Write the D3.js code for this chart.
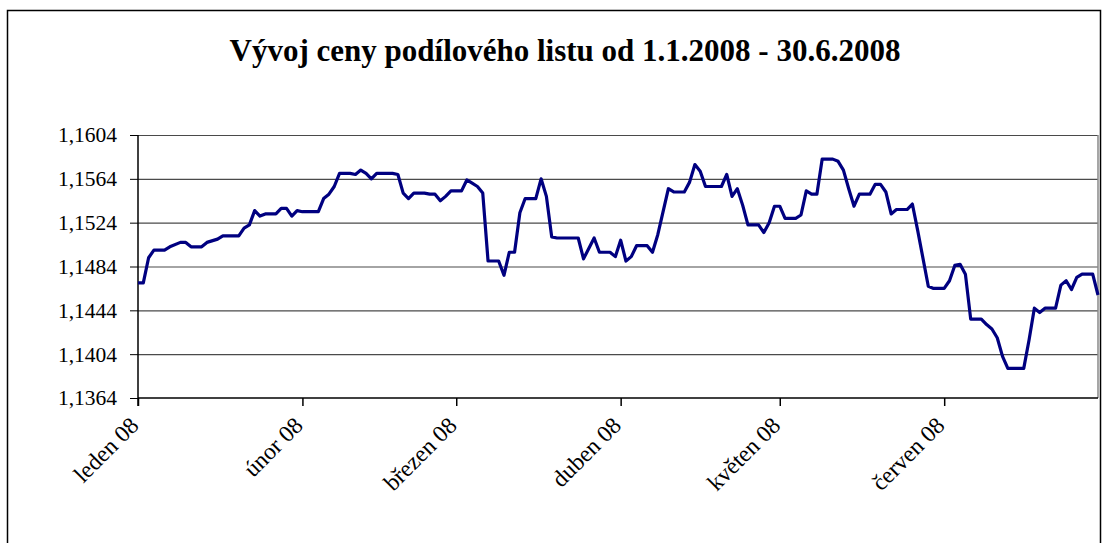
<!DOCTYPE html>
<html>
<head>
<meta charset="utf-8">
<script src="https://cdn.jsdelivr.net/npm/d3@7"></script>
<style>
  body { margin: 0; background: #fff; }
  .chart text { font-family: "Liberation Serif", "Times New Roman", serif; fill: #000; }
  .axis path, .axis line { stroke: #000; }
  .grid line { stroke: #4a4a4a; stroke-width: 1.2; }
  .grid path { display: none; }
</style>
</head>
<body>
<div class="chart"></div>
<script>
// data (price of the unit, 1.1.2008 - 30.6.2008)
var dates = [
  "2008-01-01","2008-01-02","2008-01-03","2008-01-04","2008-01-06","2008-01-07","2008-01-09","2008-01-10",
  "2008-01-11","2008-01-13","2008-01-14","2008-01-16","2008-01-17","2008-01-20","2008-01-21","2008-01-22",
  "2008-01-23","2008-01-24","2008-01-25","2008-01-27","2008-01-28","2008-01-29","2008-01-30","2008-01-31",
  "2008-02-01","2008-02-04","2008-02-05","2008-02-06","2008-02-07","2008-02-08","2008-02-10","2008-02-11",
  "2008-02-12","2008-02-13","2008-02-14","2008-02-15","2008-02-18","2008-02-19","2008-02-20","2008-02-21",
  "2008-02-22","2008-02-24","2008-02-25","2008-02-26","2008-02-27","2008-02-28","2008-02-29",
  "2008-03-02","2008-03-03","2008-03-04","2008-03-05","2008-03-06","2008-03-07","2008-03-09","2008-03-10",
  "2008-03-11","2008-03-12","2008-03-13","2008-03-14","2008-03-16","2008-03-17","2008-03-18","2008-03-19",
  "2008-03-20","2008-03-24","2008-03-25","2008-03-27","2008-03-28","2008-03-30","2008-03-31",
  "2008-04-01","2008-04-02","2008-04-03","2008-04-04","2008-04-06","2008-04-07","2008-04-08","2008-04-10",
  "2008-04-11","2008-04-13","2008-04-14","2008-04-15","2008-04-16","2008-04-17","2008-04-20","2008-04-21",
  "2008-04-22","2008-04-23","2008-04-24","2008-04-25","2008-04-27","2008-04-28","2008-04-29","2008-04-30",
  "2008-05-01","2008-05-02","2008-05-04","2008-05-05","2008-05-06","2008-05-07","2008-05-08","2008-05-09",
  "2008-05-11","2008-05-12","2008-05-13","2008-05-14","2008-05-15","2008-05-16","2008-05-18","2008-05-19",
  "2008-05-20","2008-05-21","2008-05-22","2008-05-23","2008-05-25","2008-05-26","2008-05-27","2008-05-29",
  "2008-05-30",
  "2008-06-01","2008-06-02","2008-06-03","2008-06-04","2008-06-05","2008-06-06","2008-06-08","2008-06-09",
  "2008-06-10","2008-06-11","2008-06-12","2008-06-13","2008-06-16","2008-06-17","2008-06-18","2008-06-19",
  "2008-06-20","2008-06-22","2008-06-23","2008-06-24","2008-06-25","2008-06-26","2008-06-27","2008-06-29",
  "2008-06-30"
];
var prices = [
  1.1469,1.1469,1.1492,1.1499,1.1499,1.1502,1.1506,1.1506,
  1.1502,1.1502,1.1506,1.1509,1.1512,1.1512,1.1519,1.1522,
  1.1535,1.1530,1.1532,1.1532,1.1537,1.1537,1.1530,1.1535,
  1.1534,1.1534,1.1546,1.1550,1.1557,1.1569,1.1569,1.1568,
  1.1572,1.1569,1.1564,1.1569,1.1569,1.1568,1.1551,1.1546,
  1.1551,1.1551,1.1550,1.1550,1.1544,1.1548,1.1553,
  1.1553,1.1563,1.1560,1.1557,1.1551,1.1489,1.1489,1.1476,
  1.1497,1.1497,1.1533,1.1546,1.1546,1.1564,1.1548,1.1511,
  1.1510,1.1510,1.1491,1.1510,1.1497,1.1497,1.1493,
  1.1508,1.1489,1.1493,1.1503,1.1503,1.1497,1.1513,1.1555,
  1.1552,1.1552,1.1561,1.1577,1.1571,1.1557,1.1557,1.1568,
  1.1548,1.1555,1.1540,1.1522,1.1522,1.1515,1.1524,1.1539,
  1.1539,1.1528,1.1528,1.1531,1.1553,1.1550,1.1550,1.1582,
  1.1582,1.1580,1.1572,1.1555,1.1539,1.1550,1.1550,1.1559,
  1.1559,1.1552,1.1532,1.1536,1.1536,1.1541,1.1517,1.1466,
  1.1464,
  1.1464,1.1471,1.1485,1.1486,1.1477,1.1436,1.1436,1.1431,
  1.1427,1.1419,1.1402,1.1391,1.1391,1.1417,1.1446,1.1442,
  1.1446,1.1446,1.1467,1.1471,1.1463,1.1474,1.1477,1.1477,
  1.1458
];
var yTicks = [1.1364, 1.1404, 1.1444, 1.1484, 1.1524, 1.1564, 1.1604];
var yTickLabels = ["1,1364", "1,1404", "1,1444", "1,1484", "1,1524", "1,1564", "1,1604"];
var xTickDates = ["2008-01-01", "2008-02-01", "2008-03-01", "2008-04-01", "2008-05-01", "2008-06-01"];
var xTickLabels = ["leden 08", "únor 08", "březen 08", "duben 08", "květen 08", "červen 08"];
var title = "Vývoj ceny podílového listu od 1.1.2008 - 30.6.2008";

var svgWidth = 1104;
var svgHeight = 543;

var margin = {
    top: 135,
    right: 6,
    bottom: 145,
    left: 138
  };

var width = svgWidth - margin.left - margin.right;
var height = svgHeight - margin.top - margin.bottom;

var parseDate = d3.timeParse("%Y-%m-%d");

var root = d3.select(".chart")
  .append("svg")
  .attr("width", svgWidth)
  .attr("height", svgHeight);

// outer chart frame
root.append("rect")
  .attr("x", 7.5)
  .attr("y", 10.5)
  .attr("width", 1093)
  .attr("height", 600)
  .attr("fill", "none")
  .attr("stroke", "#000")
  .attr("stroke-width", 1.5);

root.append("text")
  .attr("x", 565)
  .attr("y", 61)
  .attr("text-anchor", "middle")
  .attr("font-size", "31px")
  .attr("font-weight", "bold")
  .text(title);

var svg = root.append("g")
  .attr("transform", "translate(" + margin.left + "," + margin.top + ")");

var x = d3.scaleTime()
  .domain([parseDate("2008-01-01"), parseDate("2008-06-30")])
  .range([0, width]);
var y = d3.scaleLinear()
  .domain([yTicks[0], yTicks[yTicks.length - 1]])
  .range([height, 0]);

// horizontal gridlines
svg.append("g")
  .attr("class", "grid")
  .call(d3.axisLeft(y).tickValues(yTicks.slice(1)).tickSize(-width).tickFormat(""));

// plot area border (right side)
svg.append("line")
  .attr("x1", width).attr("x2", width)
  .attr("y1", 0).attr("y2", height)
  .attr("stroke", "#888").attr("stroke-width", 1.5);

var leftAxis = d3.axisLeft(y)
  .tickValues(yTicks)
  .tickSize(8)
  .tickPadding(13)
  .tickFormat(function(d, i) { return yTickLabels[i]; });

var yAxisG = svg.append("g")
  .attr("class", "axis")
  .call(leftAxis);
yAxisG.select(".domain").attr("d", "M0," + (height + 8) + "V0").attr("stroke-width", 1.5);
yAxisG.selectAll("text").attr("font-size", "21.5px").attr("font-family", "Liberation Serif");

var bottomAxis = d3.axisBottom(x)
  .tickValues(xTickDates.map(parseDate))
  .tickSize(8)
  .tickFormat("");

svg.append("g")
  .attr("class", "axis")
  .attr("transform", "translate(0," + height + ")")
  .call(bottomAxis)
  .call(function(g) {
    g.select(".domain").attr("d", "M0,0H" + width).attr("stroke-width", 1.5);
    g.selectAll(".tick line").attr("stroke", "#555").attr("stroke-width", 1.5);
  });

svg.selectAll(".xlabel")
  .data(xTickDates)
  .enter()
  .append("text")
  .attr("class", "xlabel")
  .attr("text-anchor", "end")
  .attr("font-size", "23.5px")
  .attr("transform", function(d) {
    return "translate(" + (x(parseDate(d)) + 2) + "," + (height + 29) + ") rotate(-45)";
  })
  .text(function(d, i) { return xTickLabels[i]; });

var series = dates.map(function(d, i) {
  return { date: parseDate(d), value: prices[i] };
});

var line = d3.line()
  .x(function(d) { return x(d.date); })
  .y(function(d) { return y(d.value); });

svg.append("path")
  .datum(series)
  .attr("d", line)
  .attr("fill", "none")
  .attr("stroke", "#000080")
  .attr("stroke-width", 3.2)
  .attr("stroke-linejoin", "round");
</script>
</body>
</html>
